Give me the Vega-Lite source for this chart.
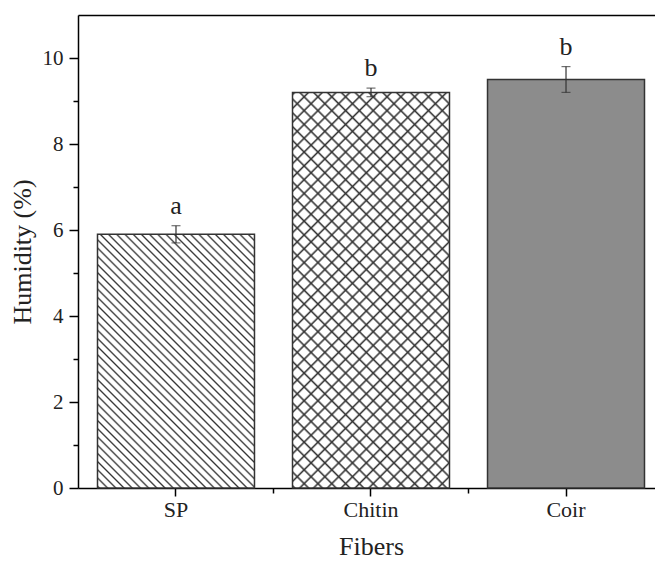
{
  "$schema": "https://vega.github.io/schema/vega-lite/v6.json",
  "width": 577,
  "height": 473,
  "autosize": {"type": "none"},
  "padding": {"left": 78, "top": 15, "right": 0, "bottom": 73},
  "background": "white",
  "config": {
    "view": {"stroke": null},
    "font": "Liberation Serif",
    "axis": {"labelFont": "Liberation Serif", "titleFont": "Liberation Serif", "labelColor": "#222", "titleColor": "#222", "domainColor": "#000", "tickColor": "#000", "titleFontWeight": "normal", "grid": false}
  },
  "data": {"values": [
    {"fiber": "SP", "humidity": 5.9, "low": 5.7, "high": 6.1, "letter": "a"},
    {"fiber": "Chitin", "humidity": 9.2, "low": 9.1, "high": 9.3, "letter": "b"},
    {"fiber": "Coir", "humidity": 9.5, "low": 9.2, "high": 9.8, "letter": "b"}
  ]},
  "encoding": {
    "x": {"field": "fiber", "type": "nominal", "sort": ["SP", "Chitin", "Coir"], "scale": {"range": [0, 586], "paddingInner": 0.195, "paddingOuter": 0.1}, "axis": null},
    "y": {"field": "humidity", "type": "quantitative", "scale": {"domain": [0, 11], "nice": false, "zero": true}, "axis": null}
  },
  "layer": [
    {
      "mark": {"type": "bar", "fill": "#fff"},
      "encoding": {
        "x": {"field": "fiber", "type": "nominal", "sort": ["SP", "Chitin", "Coir"], "scale": {"range": [0, 586], "paddingInner": 0.195, "paddingOuter": 0.1},
          "axis": {"orient": "bottom", "title": "Fibers", "tickSize": 8, "tickWidth": 1.5, "domainWidth": 1.5, "labelFontSize": 22, "labelPadding": 3, "labelAngle": 0, "titleFontSize": 26, "titleX": 293, "titleY": 66, "titleBaseline": "alphabetic", "titleAlign": "center"}},
        "y": {"field": "humidity", "type": "quantitative", "scale": {"domain": [0, 11], "nice": false, "zero": true},
          "axis": {"orient": "left", "title": "Humidity (%)", "values": [0, 2, 4, 6, 8, 10], "tickSize": 9, "tickWidth": 1.5, "domainWidth": 1.5, "labelFontSize": 21, "labelPadding": 6, "titleFontSize": 26, "titleAngle": -90, "titleX": -43, "titleY": 236.5, "titleAlign": "center", "titleBaseline": "bottom"}}
      }
    },
    {
      "transform": [{"filter": "datum.fiber === 'SP'"}],
      "mark": {"type": "bar", "fill": {"gradient": "linear", "x1": 0, "y1": 1, "x2": 0.7244, "y2": -0.1705, "stops": [
        {"offset":0,"color":"#fff"},{"offset":0.0045,"color":"#333"},{"offset":0.009,"color":"#fff"},
        {"offset":0.02,"color":"#fff"},{"offset":0.0245,"color":"#333"},{"offset":0.029,"color":"#fff"},
        {"offset":0.04,"color":"#fff"},{"offset":0.0445,"color":"#333"},{"offset":0.049,"color":"#fff"},
        {"offset":0.06,"color":"#fff"},{"offset":0.0645,"color":"#333"},{"offset":0.069,"color":"#fff"},
        {"offset":0.08,"color":"#fff"},{"offset":0.0845,"color":"#333"},{"offset":0.089,"color":"#fff"},
        {"offset":0.1,"color":"#fff"},{"offset":0.1045,"color":"#333"},{"offset":0.109,"color":"#fff"},
        {"offset":0.12,"color":"#fff"},{"offset":0.1245,"color":"#333"},{"offset":0.129,"color":"#fff"},
        {"offset":0.14,"color":"#fff"},{"offset":0.1445,"color":"#333"},{"offset":0.149,"color":"#fff"},
        {"offset":0.16,"color":"#fff"},{"offset":0.1645,"color":"#333"},{"offset":0.169,"color":"#fff"},
        {"offset":0.18,"color":"#fff"},{"offset":0.1845,"color":"#333"},{"offset":0.189,"color":"#fff"},
        {"offset":0.2,"color":"#fff"},{"offset":0.2045,"color":"#333"},{"offset":0.209,"color":"#fff"},
        {"offset":0.22,"color":"#fff"},{"offset":0.2245,"color":"#333"},{"offset":0.229,"color":"#fff"},
        {"offset":0.24,"color":"#fff"},{"offset":0.2445,"color":"#333"},{"offset":0.249,"color":"#fff"},
        {"offset":0.26,"color":"#fff"},{"offset":0.2645,"color":"#333"},{"offset":0.269,"color":"#fff"},
        {"offset":0.28,"color":"#fff"},{"offset":0.2845,"color":"#333"},{"offset":0.289,"color":"#fff"},
        {"offset":0.3,"color":"#fff"},{"offset":0.3045,"color":"#333"},{"offset":0.309,"color":"#fff"},
        {"offset":0.32,"color":"#fff"},{"offset":0.3245,"color":"#333"},{"offset":0.329,"color":"#fff"},
        {"offset":0.34,"color":"#fff"},{"offset":0.3445,"color":"#333"},{"offset":0.349,"color":"#fff"},
        {"offset":0.36,"color":"#fff"},{"offset":0.3645,"color":"#333"},{"offset":0.369,"color":"#fff"},
        {"offset":0.38,"color":"#fff"},{"offset":0.3845,"color":"#333"},{"offset":0.389,"color":"#fff"},
        {"offset":0.4,"color":"#fff"},{"offset":0.4045,"color":"#333"},{"offset":0.409,"color":"#fff"},
        {"offset":0.42,"color":"#fff"},{"offset":0.4245,"color":"#333"},{"offset":0.429,"color":"#fff"},
        {"offset":0.44,"color":"#fff"},{"offset":0.4445,"color":"#333"},{"offset":0.449,"color":"#fff"},
        {"offset":0.46,"color":"#fff"},{"offset":0.4645,"color":"#333"},{"offset":0.469,"color":"#fff"},
        {"offset":0.48,"color":"#fff"},{"offset":0.4845,"color":"#333"},{"offset":0.489,"color":"#fff"},
        {"offset":0.5,"color":"#fff"},{"offset":0.5045,"color":"#333"},{"offset":0.509,"color":"#fff"},
        {"offset":0.52,"color":"#fff"},{"offset":0.5245,"color":"#333"},{"offset":0.529,"color":"#fff"},
        {"offset":0.54,"color":"#fff"},{"offset":0.5445,"color":"#333"},{"offset":0.549,"color":"#fff"},
        {"offset":0.56,"color":"#fff"},{"offset":0.5645,"color":"#333"},{"offset":0.569,"color":"#fff"},
        {"offset":0.58,"color":"#fff"},{"offset":0.5845,"color":"#333"},{"offset":0.589,"color":"#fff"},
        {"offset":0.6,"color":"#fff"},{"offset":0.6045,"color":"#333"},{"offset":0.609,"color":"#fff"},
        {"offset":0.62,"color":"#fff"},{"offset":0.6245,"color":"#333"},{"offset":0.629,"color":"#fff"},
        {"offset":0.64,"color":"#fff"},{"offset":0.6445,"color":"#333"},{"offset":0.649,"color":"#fff"},
        {"offset":0.66,"color":"#fff"},{"offset":0.6645,"color":"#333"},{"offset":0.669,"color":"#fff"},
        {"offset":0.68,"color":"#fff"},{"offset":0.6845,"color":"#333"},{"offset":0.689,"color":"#fff"},
        {"offset":0.7,"color":"#fff"},{"offset":0.7045,"color":"#333"},{"offset":0.709,"color":"#fff"},
        {"offset":0.72,"color":"#fff"},{"offset":0.7245,"color":"#333"},{"offset":0.729,"color":"#fff"},
        {"offset":0.74,"color":"#fff"},{"offset":0.7445,"color":"#333"},{"offset":0.749,"color":"#fff"},
        {"offset":0.76,"color":"#fff"},{"offset":0.7645,"color":"#333"},{"offset":0.769,"color":"#fff"},
        {"offset":0.78,"color":"#fff"},{"offset":0.7845,"color":"#333"},{"offset":0.789,"color":"#fff"},
        {"offset":0.8,"color":"#fff"},{"offset":0.8045,"color":"#333"},{"offset":0.809,"color":"#fff"},
        {"offset":0.82,"color":"#fff"},{"offset":0.8245,"color":"#333"},{"offset":0.829,"color":"#fff"},
        {"offset":0.84,"color":"#fff"},{"offset":0.8445,"color":"#333"},{"offset":0.849,"color":"#fff"},
        {"offset":0.86,"color":"#fff"},{"offset":0.8645,"color":"#333"},{"offset":0.869,"color":"#fff"},
        {"offset":0.88,"color":"#fff"},{"offset":0.8845,"color":"#333"},{"offset":0.889,"color":"#fff"},
        {"offset":0.9,"color":"#fff"},{"offset":0.9045,"color":"#333"},{"offset":0.909,"color":"#fff"},
        {"offset":0.92,"color":"#fff"},{"offset":0.9245,"color":"#333"},{"offset":0.929,"color":"#fff"},
        {"offset":0.94,"color":"#fff"},{"offset":0.9445,"color":"#333"},{"offset":0.949,"color":"#fff"},
        {"offset":0.96,"color":"#fff"},{"offset":0.9645,"color":"#333"},{"offset":0.969,"color":"#fff"},
        {"offset":0.98,"color":"#fff"},{"offset":0.9845,"color":"#333"},{"offset":0.989,"color":"#fff"},
        {"offset":1,"color":"#fff"}
      ]}}
    },
    {
      "transform": [{"filter": "datum.fiber === 'Chitin'"}],
      "mark": {"type": "bar", "fill": {"gradient": "linear", "x1": 0, "y1": 1, "x2": 0.4789, "y2": -0.2068, "stops": [
        {"offset":0,"color":"#fff"},{"offset":0.004,"color":"#333"},{"offset":0.008,"color":"#fff"},
        {"offset":0.025,"color":"#fff"},{"offset":0.029,"color":"#333"},{"offset":0.033,"color":"#fff"},
        {"offset":0.05,"color":"#fff"},{"offset":0.054,"color":"#333"},{"offset":0.058,"color":"#fff"},
        {"offset":0.075,"color":"#fff"},{"offset":0.079,"color":"#333"},{"offset":0.083,"color":"#fff"},
        {"offset":0.1,"color":"#fff"},{"offset":0.104,"color":"#333"},{"offset":0.108,"color":"#fff"},
        {"offset":0.125,"color":"#fff"},{"offset":0.129,"color":"#333"},{"offset":0.133,"color":"#fff"},
        {"offset":0.15,"color":"#fff"},{"offset":0.154,"color":"#333"},{"offset":0.158,"color":"#fff"},
        {"offset":0.175,"color":"#fff"},{"offset":0.179,"color":"#333"},{"offset":0.183,"color":"#fff"},
        {"offset":0.2,"color":"#fff"},{"offset":0.204,"color":"#333"},{"offset":0.208,"color":"#fff"},
        {"offset":0.225,"color":"#fff"},{"offset":0.229,"color":"#333"},{"offset":0.233,"color":"#fff"},
        {"offset":0.25,"color":"#fff"},{"offset":0.254,"color":"#333"},{"offset":0.258,"color":"#fff"},
        {"offset":0.275,"color":"#fff"},{"offset":0.279,"color":"#333"},{"offset":0.283,"color":"#fff"},
        {"offset":0.3,"color":"#fff"},{"offset":0.304,"color":"#333"},{"offset":0.308,"color":"#fff"},
        {"offset":0.325,"color":"#fff"},{"offset":0.329,"color":"#333"},{"offset":0.333,"color":"#fff"},
        {"offset":0.35,"color":"#fff"},{"offset":0.354,"color":"#333"},{"offset":0.358,"color":"#fff"},
        {"offset":0.375,"color":"#fff"},{"offset":0.379,"color":"#333"},{"offset":0.383,"color":"#fff"},
        {"offset":0.4,"color":"#fff"},{"offset":0.404,"color":"#333"},{"offset":0.408,"color":"#fff"},
        {"offset":0.425,"color":"#fff"},{"offset":0.429,"color":"#333"},{"offset":0.433,"color":"#fff"},
        {"offset":0.45,"color":"#fff"},{"offset":0.454,"color":"#333"},{"offset":0.458,"color":"#fff"},
        {"offset":0.475,"color":"#fff"},{"offset":0.479,"color":"#333"},{"offset":0.483,"color":"#fff"},
        {"offset":0.5,"color":"#fff"},{"offset":0.504,"color":"#333"},{"offset":0.508,"color":"#fff"},
        {"offset":0.525,"color":"#fff"},{"offset":0.529,"color":"#333"},{"offset":0.533,"color":"#fff"},
        {"offset":0.55,"color":"#fff"},{"offset":0.554,"color":"#333"},{"offset":0.558,"color":"#fff"},
        {"offset":0.575,"color":"#fff"},{"offset":0.579,"color":"#333"},{"offset":0.583,"color":"#fff"},
        {"offset":0.6,"color":"#fff"},{"offset":0.604,"color":"#333"},{"offset":0.608,"color":"#fff"},
        {"offset":0.625,"color":"#fff"},{"offset":0.629,"color":"#333"},{"offset":0.633,"color":"#fff"},
        {"offset":0.65,"color":"#fff"},{"offset":0.654,"color":"#333"},{"offset":0.658,"color":"#fff"},
        {"offset":0.675,"color":"#fff"},{"offset":0.679,"color":"#333"},{"offset":0.683,"color":"#fff"},
        {"offset":0.7,"color":"#fff"},{"offset":0.704,"color":"#333"},{"offset":0.708,"color":"#fff"},
        {"offset":0.725,"color":"#fff"},{"offset":0.729,"color":"#333"},{"offset":0.733,"color":"#fff"},
        {"offset":0.75,"color":"#fff"},{"offset":0.754,"color":"#333"},{"offset":0.758,"color":"#fff"},
        {"offset":0.775,"color":"#fff"},{"offset":0.779,"color":"#333"},{"offset":0.783,"color":"#fff"},
        {"offset":0.8,"color":"#fff"},{"offset":0.804,"color":"#333"},{"offset":0.808,"color":"#fff"},
        {"offset":0.825,"color":"#fff"},{"offset":0.829,"color":"#333"},{"offset":0.833,"color":"#fff"},
        {"offset":0.85,"color":"#fff"},{"offset":0.854,"color":"#333"},{"offset":0.858,"color":"#fff"},
        {"offset":0.875,"color":"#fff"},{"offset":0.879,"color":"#333"},{"offset":0.883,"color":"#fff"},
        {"offset":0.9,"color":"#fff"},{"offset":0.904,"color":"#333"},{"offset":0.908,"color":"#fff"},
        {"offset":0.925,"color":"#fff"},{"offset":0.929,"color":"#333"},{"offset":0.933,"color":"#fff"},
        {"offset":0.95,"color":"#fff"},{"offset":0.954,"color":"#333"},{"offset":0.958,"color":"#fff"},
        {"offset":0.975,"color":"#fff"},{"offset":0.979,"color":"#333"},{"offset":0.983,"color":"#fff"},
        {"offset":1,"color":"#fff"}
      ]}}
    },
    {
      "transform": [{"filter": "datum.fiber === 'Chitin'"}],
      "mark": {"type": "bar", "fill": {"gradient": "linear", "x1": 0, "y1": 0, "x2": 0.4789, "y2": 1.2068, "stops": [
        {"offset":0,"color":"rgba(51,51,51,0)"},{"offset":0.004,"color":"#333"},{"offset":0.008,"color":"rgba(51,51,51,0)"},
        {"offset":0.025,"color":"rgba(51,51,51,0)"},{"offset":0.029,"color":"#333"},{"offset":0.033,"color":"rgba(51,51,51,0)"},
        {"offset":0.05,"color":"rgba(51,51,51,0)"},{"offset":0.054,"color":"#333"},{"offset":0.058,"color":"rgba(51,51,51,0)"},
        {"offset":0.075,"color":"rgba(51,51,51,0)"},{"offset":0.079,"color":"#333"},{"offset":0.083,"color":"rgba(51,51,51,0)"},
        {"offset":0.1,"color":"rgba(51,51,51,0)"},{"offset":0.104,"color":"#333"},{"offset":0.108,"color":"rgba(51,51,51,0)"},
        {"offset":0.125,"color":"rgba(51,51,51,0)"},{"offset":0.129,"color":"#333"},{"offset":0.133,"color":"rgba(51,51,51,0)"},
        {"offset":0.15,"color":"rgba(51,51,51,0)"},{"offset":0.154,"color":"#333"},{"offset":0.158,"color":"rgba(51,51,51,0)"},
        {"offset":0.175,"color":"rgba(51,51,51,0)"},{"offset":0.179,"color":"#333"},{"offset":0.183,"color":"rgba(51,51,51,0)"},
        {"offset":0.2,"color":"rgba(51,51,51,0)"},{"offset":0.204,"color":"#333"},{"offset":0.208,"color":"rgba(51,51,51,0)"},
        {"offset":0.225,"color":"rgba(51,51,51,0)"},{"offset":0.229,"color":"#333"},{"offset":0.233,"color":"rgba(51,51,51,0)"},
        {"offset":0.25,"color":"rgba(51,51,51,0)"},{"offset":0.254,"color":"#333"},{"offset":0.258,"color":"rgba(51,51,51,0)"},
        {"offset":0.275,"color":"rgba(51,51,51,0)"},{"offset":0.279,"color":"#333"},{"offset":0.283,"color":"rgba(51,51,51,0)"},
        {"offset":0.3,"color":"rgba(51,51,51,0)"},{"offset":0.304,"color":"#333"},{"offset":0.308,"color":"rgba(51,51,51,0)"},
        {"offset":0.325,"color":"rgba(51,51,51,0)"},{"offset":0.329,"color":"#333"},{"offset":0.333,"color":"rgba(51,51,51,0)"},
        {"offset":0.35,"color":"rgba(51,51,51,0)"},{"offset":0.354,"color":"#333"},{"offset":0.358,"color":"rgba(51,51,51,0)"},
        {"offset":0.375,"color":"rgba(51,51,51,0)"},{"offset":0.379,"color":"#333"},{"offset":0.383,"color":"rgba(51,51,51,0)"},
        {"offset":0.4,"color":"rgba(51,51,51,0)"},{"offset":0.404,"color":"#333"},{"offset":0.408,"color":"rgba(51,51,51,0)"},
        {"offset":0.425,"color":"rgba(51,51,51,0)"},{"offset":0.429,"color":"#333"},{"offset":0.433,"color":"rgba(51,51,51,0)"},
        {"offset":0.45,"color":"rgba(51,51,51,0)"},{"offset":0.454,"color":"#333"},{"offset":0.458,"color":"rgba(51,51,51,0)"},
        {"offset":0.475,"color":"rgba(51,51,51,0)"},{"offset":0.479,"color":"#333"},{"offset":0.483,"color":"rgba(51,51,51,0)"},
        {"offset":0.5,"color":"rgba(51,51,51,0)"},{"offset":0.504,"color":"#333"},{"offset":0.508,"color":"rgba(51,51,51,0)"},
        {"offset":0.525,"color":"rgba(51,51,51,0)"},{"offset":0.529,"color":"#333"},{"offset":0.533,"color":"rgba(51,51,51,0)"},
        {"offset":0.55,"color":"rgba(51,51,51,0)"},{"offset":0.554,"color":"#333"},{"offset":0.558,"color":"rgba(51,51,51,0)"},
        {"offset":0.575,"color":"rgba(51,51,51,0)"},{"offset":0.579,"color":"#333"},{"offset":0.583,"color":"rgba(51,51,51,0)"},
        {"offset":0.6,"color":"rgba(51,51,51,0)"},{"offset":0.604,"color":"#333"},{"offset":0.608,"color":"rgba(51,51,51,0)"},
        {"offset":0.625,"color":"rgba(51,51,51,0)"},{"offset":0.629,"color":"#333"},{"offset":0.633,"color":"rgba(51,51,51,0)"},
        {"offset":0.65,"color":"rgba(51,51,51,0)"},{"offset":0.654,"color":"#333"},{"offset":0.658,"color":"rgba(51,51,51,0)"},
        {"offset":0.675,"color":"rgba(51,51,51,0)"},{"offset":0.679,"color":"#333"},{"offset":0.683,"color":"rgba(51,51,51,0)"},
        {"offset":0.7,"color":"rgba(51,51,51,0)"},{"offset":0.704,"color":"#333"},{"offset":0.708,"color":"rgba(51,51,51,0)"},
        {"offset":0.725,"color":"rgba(51,51,51,0)"},{"offset":0.729,"color":"#333"},{"offset":0.733,"color":"rgba(51,51,51,0)"},
        {"offset":0.75,"color":"rgba(51,51,51,0)"},{"offset":0.754,"color":"#333"},{"offset":0.758,"color":"rgba(51,51,51,0)"},
        {"offset":0.775,"color":"rgba(51,51,51,0)"},{"offset":0.779,"color":"#333"},{"offset":0.783,"color":"rgba(51,51,51,0)"},
        {"offset":0.8,"color":"rgba(51,51,51,0)"},{"offset":0.804,"color":"#333"},{"offset":0.808,"color":"rgba(51,51,51,0)"},
        {"offset":0.825,"color":"rgba(51,51,51,0)"},{"offset":0.829,"color":"#333"},{"offset":0.833,"color":"rgba(51,51,51,0)"},
        {"offset":0.85,"color":"rgba(51,51,51,0)"},{"offset":0.854,"color":"#333"},{"offset":0.858,"color":"rgba(51,51,51,0)"},
        {"offset":0.875,"color":"rgba(51,51,51,0)"},{"offset":0.879,"color":"#333"},{"offset":0.883,"color":"rgba(51,51,51,0)"},
        {"offset":0.9,"color":"rgba(51,51,51,0)"},{"offset":0.904,"color":"#333"},{"offset":0.908,"color":"rgba(51,51,51,0)"},
        {"offset":0.925,"color":"rgba(51,51,51,0)"},{"offset":0.929,"color":"#333"},{"offset":0.933,"color":"rgba(51,51,51,0)"},
        {"offset":0.95,"color":"rgba(51,51,51,0)"},{"offset":0.954,"color":"#333"},{"offset":0.958,"color":"rgba(51,51,51,0)"},
        {"offset":0.975,"color":"rgba(51,51,51,0)"},{"offset":0.979,"color":"#333"},{"offset":0.983,"color":"rgba(51,51,51,0)"},
        {"offset":1,"color":"rgba(51,51,51,0)"}
      ]}}
    },
    {
      "transform": [{"filter": "datum.fiber === 'Coir'"}],
      "mark": {"type": "bar", "fill": "#8c8c8c"}
    },
    {
      "mark": {"type": "bar", "fill": null, "fillOpacity": 0, "stroke": "#333", "strokeWidth": 1.5},
      "encoding": {
        "x": {"field": "fiber", "type": "nominal", "sort": ["SP", "Chitin", "Coir"], "scale": {"range": [0, 586], "paddingInner": 0.195, "paddingOuter": 0.1},
          "axis": {"orient": "bottom", "title": null, "bandPosition": 1.121, "tickSize": 5, "tickWidth": 1.5, "labels": false, "domain": false}},
        "y": {"field": "humidity", "type": "quantitative", "scale": {"domain": [0, 11], "nice": false, "zero": true},
          "axis": {"orient": "left", "title": null, "values": [1, 3, 5, 7, 9], "tickSize": 5, "tickWidth": 1.5, "labels": false, "domain": false}}
      }
    },
    {
      "mark": {"type": "rule", "color": "#333", "strokeWidth": 1.2},
      "encoding": {
        "x": {"field": "fiber", "type": "nominal", "sort": ["SP", "Chitin", "Coir"], "scale": {"range": [0, 586], "paddingInner": 0.195, "paddingOuter": 0.1},
          "axis": {"orient": "top", "title": null, "ticks": false, "labels": false, "domain": true, "domainWidth": 1.5}},
        "y": {"field": "low", "type": "quantitative", "axis": null},
        "y2": {"field": "high"}
      }
    },
    {
      "mark": {"type": "tick", "color": "#333", "size": 9, "thickness": 1.2},
      "encoding": {"y": {"field": "high", "type": "quantitative", "axis": null}}
    },
    {
      "mark": {"type": "tick", "color": "#333", "size": 9, "thickness": 1.2},
      "encoding": {"y": {"field": "low", "type": "quantitative", "axis": null}}
    },
    {
      "mark": {"type": "text", "font": "Liberation Serif", "fontSize": 26, "color": "#222", "baseline": "alphabetic", "dy": -12},
      "encoding": {
        "y": {"field": "high", "type": "quantitative", "axis": null},
        "text": {"field": "letter"}
      }
    }
  ],
  "resolve": {"axis": {"x": "independent", "y": "independent"}}
}
